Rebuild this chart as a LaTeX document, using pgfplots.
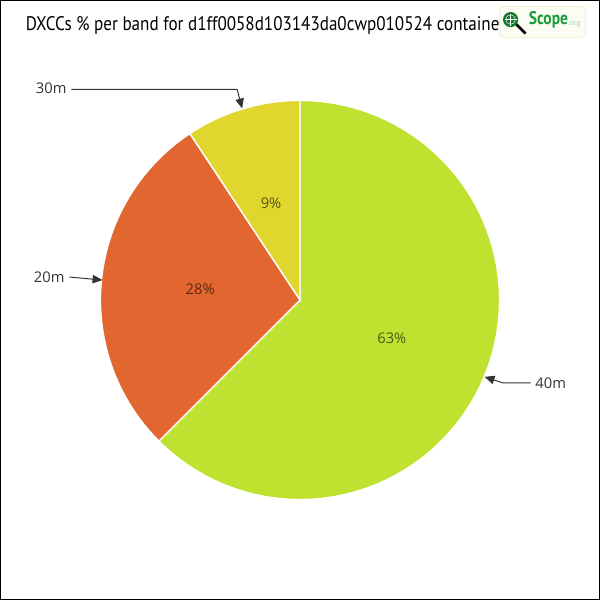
\documentclass[border=0pt]{standalone}
\usepackage{pgfplots}
\pgfplotsset{compat=1.18}
\usepackage{fontspec}
\setmainfont{Open Sans}
\newfontfamily\titlefont{PT Sans}
\usetikzlibrary{arrows.meta}
\definecolor{c40}{HTML}{BFE130}
\definecolor{c20}{HTML}{E2662F}
\definecolor{c30}{HTML}{E0D62D}
\definecolor{lblgray}{HTML}{333333}
\definecolor{logogreen}{HTML}{1A9A3A}
% band shares in percent (clockwise from 12 o'clock)
\def\pA{62.5}% 40m
\def\pB{28.2}% 20m
\def\pC{9.3}%  30m
\begin{document}
\begin{tikzpicture}
\pgfmathsetmacro{\aA}{90}
\pgfmathsetmacro{\aB}{90-3.6*\pA}
\pgfmathsetmacro{\aC}{\aB-3.6*\pB}
\pgfmathsetmacro{\aD}{\aC-3.6*\pC}
\begin{axis}[
  scale only axis, width=15cm, height=15cm,
  xmin=-300, xmax=300, ymin=-300, ymax=300,
  axis lines=box, xtick=\empty, ytick=\empty,
  axis line style={black, line width=0.9pt},
  clip=false,
]
\addplot[fill=c40, draw=white, line width=1pt, domain=\aA:\aB, samples=120]
  ({200*cos(x)},{200*sin(x)}) -- (axis cs:0,0) -- cycle;
\addplot[fill=c20, draw=white, line width=1pt, domain=\aB:\aC, samples=80]
  ({200*cos(x)},{200*sin(x)}) -- (axis cs:0,0) -- cycle;
\addplot[fill=c30, draw=white, line width=1pt, domain=\aC:\aD, samples=40]
  ({200*cos(x)},{200*sin(x)}) -- (axis cs:0,0) -- cycle;

% percentage labels
\node[text=black, text opacity=0.6, font=\fontsize{10.5pt}{12pt}\selectfont] at (axis cs:92,-38) {63\%};
\node[text=black, text opacity=0.6, font=\fontsize{10.5pt}{12pt}\selectfont] at (axis cs:-100,11) {28\%};
\node[text=black, text opacity=0.6, font=\fontsize{10.5pt}{12pt}\selectfont] at (axis cs:-29,97) {9\%};

% callouts
\draw[black!80, line width=0.7pt, -{Triangle[length=7pt,width=6pt]}]
  (axis cs:-229,211) -- (axis cs:-63,211) -- (axis cs:-58,192);
\node[text=lblgray, anchor=east, font=\fontsize{10.5pt}{12pt}\selectfont] at (axis cs:-229,212) {30m};
\draw[black!80, line width=0.7pt, -{Triangle[length=7pt,width=6pt]}]
  (axis cs:-231,23) -- (axis cs:-198,20);
\node[text=lblgray, anchor=east, font=\fontsize{10.5pt}{12pt}\selectfont] at (axis cs:-231,23) {20m};
\draw[black!80, line width=0.7pt, -{Triangle[length=7pt,width=6pt]}]
  (axis cs:231,-83) -- (axis cs:203,-83) -- (axis cs:185,-77);
\node[text=lblgray, anchor=west, font=\fontsize{10.5pt}{12pt}\selectfont] at (axis cs:231,-83) {40m};

% title
\node[anchor=west, inner sep=0pt, font=\titlefont\fontsize{14pt}{16pt}\selectfont] at (axis cs:-275,275)
  {\scalebox{0.87}[1]{DXCCs \% per band for d1ff0058d103143da0cwp010524 containe}};

% logo
\draw[draw={rgb,255:red,230;green,238;blue,190}, fill={rgb,255:red,252;green,253;blue,242}, rounded corners=3pt]
  (axis cs:200,294) rectangle (axis cs:286,263);
\draw[black, line width=2pt] (axis cs:216,277) -- (axis cs:226,267);
\fill[logogreen!80!black] (axis cs:211,281) circle[radius=1.9mm];
\draw[white, line width=0.3pt] (axis cs:211,281) circle[radius=1.2mm];
\draw[white, line width=0.3pt] (axis cs:205,281) -- (axis cs:217,281);
\draw[white, line width=0.3pt] (axis cs:211,275) -- (axis cs:211,287);
\node[anchor=west, text=logogreen, inner sep=0pt, font=\titlefont\bfseries\fontsize{13pt}{14pt}\selectfont] at (axis cs:229,281) {\scalebox{0.85}[1]{Scope}};
\node[anchor=west, text=logogreen!45, inner sep=0pt, font=\fontsize{5pt}{6pt}\selectfont] at (axis cs:268,276) {.org};
\end{axis}
\end{tikzpicture}
\end{document}
